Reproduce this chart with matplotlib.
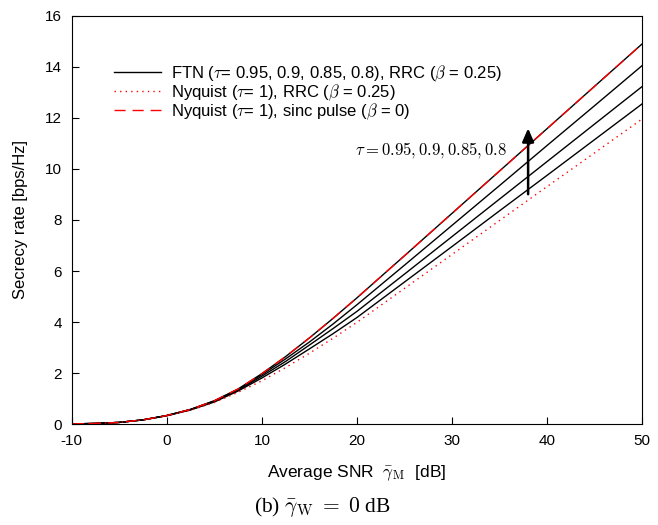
import matplotlib
matplotlib.use("Agg")
import matplotlib.pyplot as plt

plt.rcParams['font.family'] = ['Liberation Sans', 'DejaVu Sans']
plt.rcParams['mathtext.fontset'] = 'cm'
plt.rcParams['axes.unicode_minus'] = False

# average SNR of main channel [dB]
snr = [-10, -7.5, -5, -2.5, 0, 2.5, 5, 7.5, 10, 12.5, 15, 17.5, 20, 25, 30, 35, 40, 45, 50]

# Nyquist sinc pulse (beta = 0), FTN tau = 0.8 lies on top of it
sinc = [0.01, 0.03, 0.07, 0.17, 0.34, 0.58, 0.92, 1.38, 1.98, 2.65, 3.38, 4.15, 4.95,
        6.60, 8.26, 9.92, 11.58, 13.24, 14.90]
ftn_080 = [0.01, 0.03, 0.07, 0.17, 0.34, 0.58, 0.92, 1.38, 1.98, 2.65, 3.38, 4.15, 4.95,
           6.60, 8.26, 9.92, 11.58, 13.24, 14.90]
ftn_085 = [0.01, 0.03, 0.07, 0.17, 0.34, 0.58, 0.91, 1.36, 1.94, 2.56, 3.22, 3.93, 4.68,
           6.23, 7.79, 9.35, 10.92, 12.48, 14.05]
ftn_090 = [0.01, 0.03, 0.07, 0.17, 0.34, 0.57, 0.89, 1.33, 1.88, 2.46, 3.10, 3.75, 4.42,
           5.88, 7.35, 8.82, 10.29, 11.76, 13.23]
ftn_095 = [0.01, 0.03, 0.07, 0.17, 0.33, 0.56, 0.87, 1.30, 1.81, 2.36, 2.95, 3.55, 4.18,
           5.57, 6.96, 8.36, 9.75, 11.15, 12.55]
# Nyquist RRC (beta = 0.25)
rrc = [0.01, 0.03, 0.07, 0.17, 0.33, 0.55, 0.85, 1.25, 1.70, 2.22, 2.78, 3.37, 3.99,
       5.32, 6.65, 7.98, 9.31, 10.63, 11.96]

fig = plt.figure(figsize=(6.58, 5.25), dpi=100)
ax = fig.add_axes([0.109, 0.192, 0.867, 0.778])

ax.plot(snr, ftn_095, color='black', lw=1.0,
        label=r'FTN ($\tau$= 0.95, 0.9, 0.85, 0.8), RRC ($\beta$ = 0.25)')
ax.plot(snr, ftn_090, color='black', lw=1.0)
ax.plot(snr, ftn_085, color='black', lw=1.0)
ax.plot(snr, ftn_080, color='black', lw=1.0)
ax.plot(snr, rrc, color='red', lw=1.0, linestyle=(0, (1, 3)),
        label=r'Nyquist ($\tau$= 1), RRC ($\beta$ = 0.25)')
ax.plot(snr, sinc, color='red', lw=1.0, linestyle=(0, (8, 5)),
        label=r'Nyquist ($\tau$= 1), sinc pulse ($\beta$ = 0)')

ax.annotate('', xy=(38, 11.7), xytext=(38, 8.9),
            arrowprops=dict(arrowstyle='-|>,head_length=0.8,head_width=0.35',
                            color='black', lw=1.8))
ax.text(19.8, 10.75, r'$\tau = 0.95, 0.9, 0.85, 0.8$', fontsize=12, va='center')

ax.set_xlim(-10, 50)
ax.set_ylim(0, 16)
ax.set_xticks([-10, 0, 10, 20, 30, 40, 50])
ax.set_yticks([0, 2, 4, 6, 8, 10, 12, 14, 16])
ax.tick_params(direction='in', labelsize=11, length=5, pad=7)
ax.set_xlabel(r'Average SNR  $\bar{\gamma}_{\rm M}$  [dB]', fontsize=12.5, labelpad=11)
ax.set_ylabel('Secrecy rate [bps/Hz]', fontsize=12, labelpad=12)

ax.legend(loc='upper left', bbox_to_anchor=(0.048, 0.92), frameon=False,
          fontsize=12, handlelength=2.8, labelspacing=-0.1, handletextpad=0.6)

fig.text(0.49, 0.025, r'(b) $\bar{\gamma}_{\rm W}\; =\; 0$ dB', ha='center',
         fontsize=15.5, family='Liberation Serif')

fig.savefig('out.png', dpi=100)
